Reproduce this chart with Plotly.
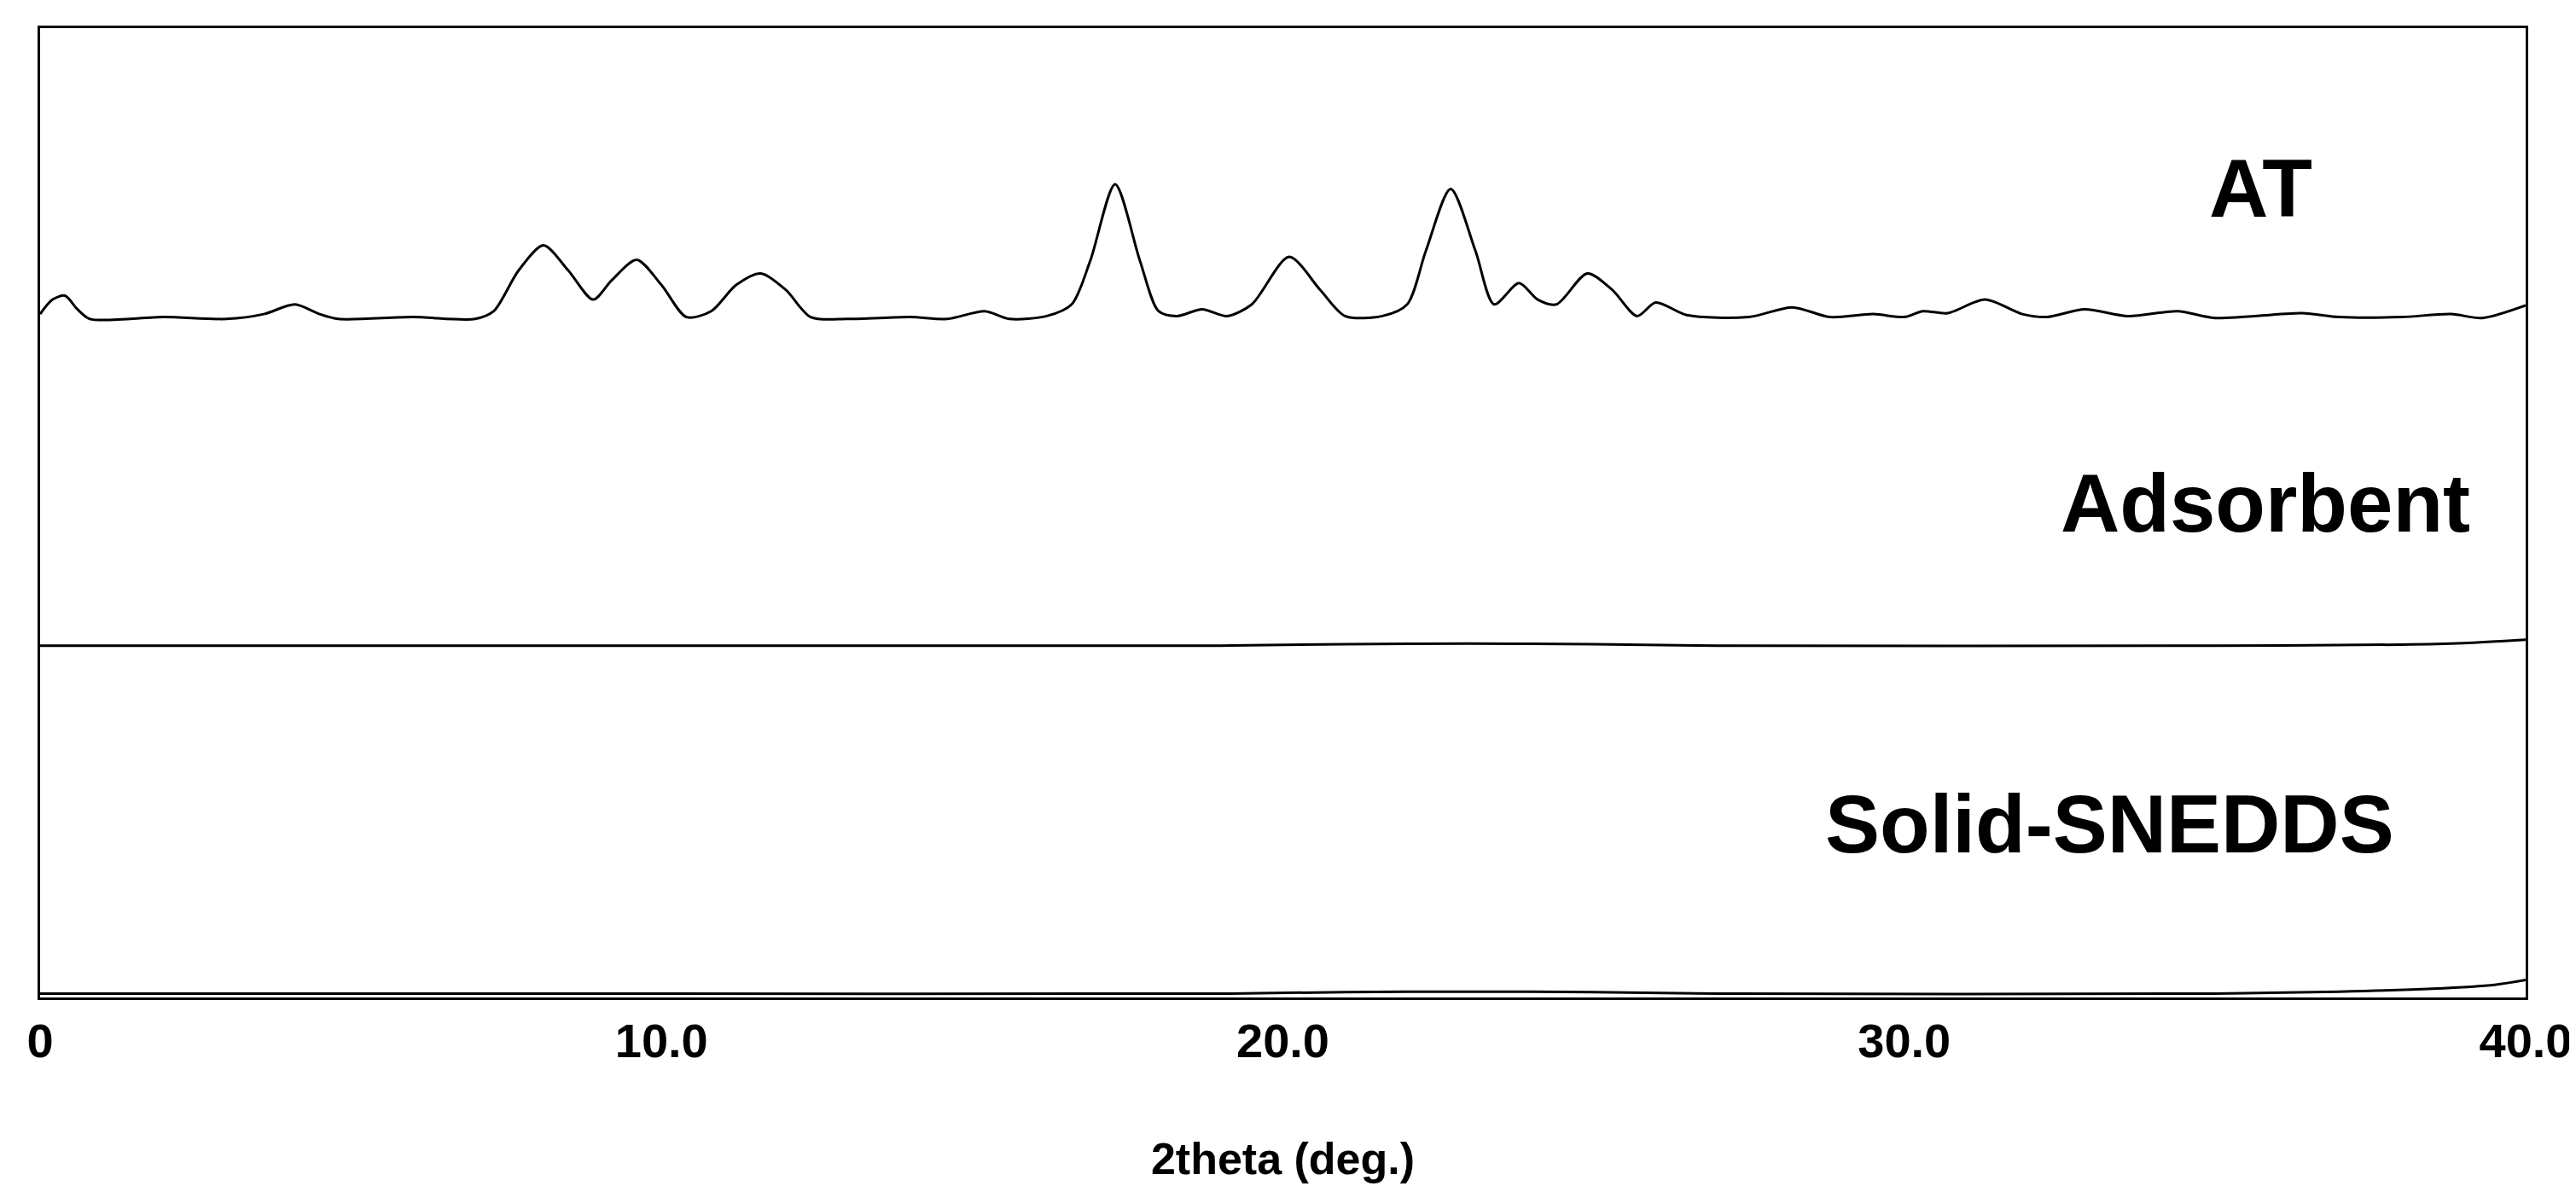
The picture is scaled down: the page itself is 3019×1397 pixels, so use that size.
import plotly.graph_objects as go

# 2theta positions and intensities (relative to each baseline)
at_x = [0, 0.2, 0.4, 0.6, 0.8, 2, 3, 3.6, 4.1, 4.5, 4.8, 6, 7, 7.3, 7.7, 8.1, 8.5, 8.9, 9.2, 9.6,
        10.0, 10.4, 10.8, 11.2, 11.6, 12.0, 12.4, 13, 14, 14.6, 15.2, 15.6, 16.2, 16.6, 16.9, 17.3,
        17.7, 18.0, 18.3, 18.7, 19.1, 19.5, 20.1, 20.6, 21.0, 21.6, 22.0, 22.3, 22.7, 23.1, 23.4,
        23.8, 24.1, 24.4, 24.9, 25.3, 25.7, 26.0, 26.5, 27.5, 28.2, 28.8, 29.5, 30, 30.3, 30.7,
        31.3, 31.9, 32.3, 32.9, 33.6, 34.4, 35, 36.4, 37, 38, 38.8, 39.3, 40]
at_y = [0.5, 2.0, 2.4, 1.0, 0, 0.2, 0, 0.5, 1.5, 0.5, 0, 0.2, 0, 0.8, 5, 7.6, 5, 2.0, 4, 6.1,
        3.5, 0.2, 0.8, 3.5, 4.7, 3, 0.2, 0, 0.2, 0, 0.8, 0, 0.3, 1.5, 6, 13.9,
        6, 0.8, 0.3, 1, 0.3, 1.5, 6.4, 3, 0.3, 0.3, 1.5, 7, 13.4, 7, 1.5,
        3.7, 2, 1.5, 4.7, 3, 0.3, 1.7, 0.4, 0.2, 1.2, 0.2, 0.5, 0.2, 0.8, 0.6,
        2, 0.5, 0.2, 1.0, 0.3, 0.8, 0.1, 0.6, 0.2, 0.2, 0.5, 0.1, 1.4]

ads_x = [0, 10, 19, 21, 23, 25, 27, 35, 38, 39, 40]
ads_y = [0, 0, 0, 0.15, 0.2, 0.15, 0, 0, 0.1, 0.25, 0.6]

sol_x = [0, 10, 19, 21, 23, 25, 27, 35, 37, 38.5, 39.5, 40]
sol_y = [0, 0, 0, 0.15, 0.2, 0.15, 0, 0, 0.2, 0.5, 0.9, 1.4]

offsets = {"AT": 70, "Adsorbent": 36.3, "Solid-SNEDDS": 0.4}
tick_vals = [0, 10, 20, 30, 40]
tick_text = ["0", "10.0", "20.0", "30.0", "40.0"]

fig = go.Figure()
for name, xs, ys in [("AT", at_x, at_y), ("Adsorbent", ads_x, ads_y), ("Solid-SNEDDS", sol_x, sol_y)]:
    fig.add_trace(go.Scatter(x=xs, y=[v + offsets[name] for v in ys], mode="lines",
                             line=dict(color="black", width=3, shape="spline", smoothing=0.8),
                             name=name, showlegend=False))

# sample labels
labels = [("AT", 2641, 212), ("Adsorbent", 2647, 581), ("Solid-SNEDDS", 2464, 957)]
for txt, px, py in labels:
    fig.add_annotation(text="<b>%s</b>" % txt, x=(px - 39) / 2913 * 40, y=(1161 - py) / 1136 * 100,
                       xref="x", yref="y", showarrow=False,
                       font=dict(family="Liberation Sans, Arial", size=96, color="black"))

fig.update_layout(
    width=3019, height=1397,
    margin=dict(l=39, r=67, t=25, b=236),
    plot_bgcolor="white", paper_bgcolor="white",
    font=dict(family="Liberation Sans, Arial", color="black"),
)
fig.update_xaxes(range=[0, 40], tickvals=tick_vals, ticktext=["<b>%s</b>" % t for t in tick_text],
                 tickfont=dict(size=56), showgrid=False, zeroline=False,
                 showline=True, linecolor="black", linewidth=3, mirror=True, ticks="",
                 title=dict(text="<b>2theta (deg.)</b>", font=dict(size=52), standoff=90))
fig.update_yaxes(range=[0, 100], showticklabels=False, showgrid=False, zeroline=False,
                 showline=True, linecolor="black", linewidth=3, mirror=True, ticks="")

fig.write_html("out.html")
